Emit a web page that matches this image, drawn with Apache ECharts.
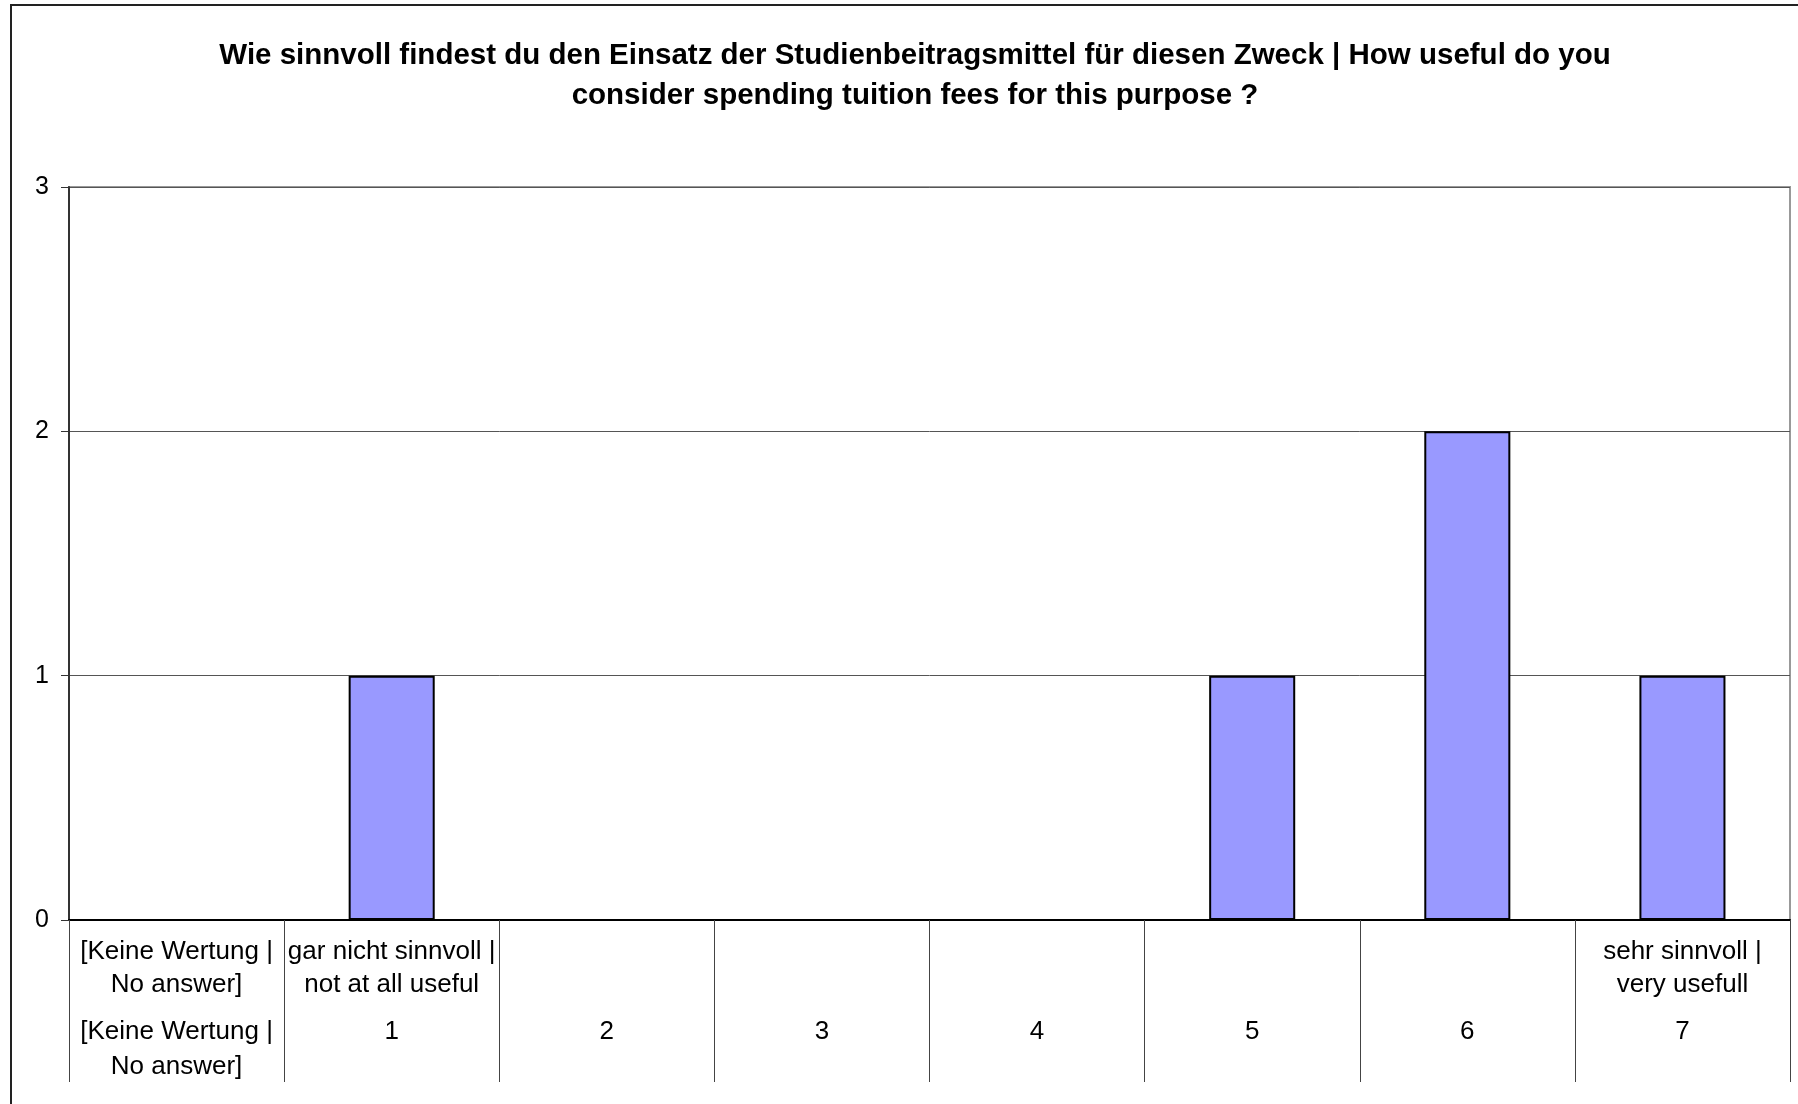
<!DOCTYPE html>
<html>
<head>
<meta charset="utf-8">
<script src="https://cdn.jsdelivr.net/npm/echarts@6/dist/echarts.min.js"></script>
<style>
  html, body { margin: 0; padding: 0; background: #fff; }
  #chart { width: 1798px; height: 1104px; }
</style>
</head>
<body>
<div id="chart"></div>
<script>
// Antwortskala (obere Zeile = Beschriftung, untere Zeile = Wert)
var scaleLabels = ['[Keine Wertung |\nNo answer]', 'gar nicht sinnvoll |\nnot at all useful', '', '', '', '', '', 'sehr sinnvoll |\nvery usefull']
var scaleValues = ['[Keine Wertung |\nNo answer]', '1', '2', '3', '4', '5', '6', '7']
var counts = [0, 1, 0, 0, 0, 1, 2, 1]
var yTicks = [0, 1, 2, 3]

var titleText = 'Wie sinnvoll findest du den Einsatz der Studienbeitragsmittel für diesen Zweck | How useful do you\nconsider spending tuition fees for this purpose ?'
var font = 'Arial, "Liberation Sans", sans-serif'

var myChart = echarts.init(document.getElementById('chart'))
var option = {
  backgroundColor: '#fff',
  animation: false,
  title: {
    text: titleText,
    left: 910,
    top: 31,
    textAlign: 'center',
    textStyle: {
      fontFamily: font,
      fontSize: 29.5,
      fontWeight: 'bold',
      color: '#000',
      lineHeight: 40,
      align: 'center'
    }
  },
  graphic: [
    {
      type: 'rect',
      shape: { x: 11, y: 5, width: 1800, height: 1110 },
      style: { fill: 'none', stroke: '#222', lineWidth: 2 },
      z: 100
    }
  ],
  grid: {
    left: 69,
    right: 8,
    top: 187,
    bottom: 184,
    show: true,
    borderColor: '#999',
    borderWidth: 2
  },
  xAxis: [
    {
      type: 'category',
      data: scaleLabels,
      position: 'bottom',
      axisLine: { show: true, lineStyle: { color: '#000', width: 2 } },
      axisTick: { show: true, inside: false, length: 162, lineStyle: { color: '#444', width: 1 } },
      axisLabel: {
        interval: 0,
        margin: 15,
        fontFamily: font,
        fontSize: 26,
        lineHeight: 33,
        color: '#000',
        align: 'center'
      },
      splitLine: { show: false }
    },
    {
      type: 'category',
      data: scaleValues,
      position: 'bottom',
      axisLine: { show: false },
      axisTick: { show: false },
      axisLabel: {
        interval: 0,
        margin: 94,
        fontFamily: font,
        fontSize: 26,
        lineHeight: 35,
        color: '#000',
        align: 'center'
      },
      splitLine: { show: false }
    }
  ],
  yAxis: {
    type: 'value',
    min: yTicks[0],
    max: yTicks[yTicks.length - 1],
    interval: 1,
    axisLine: { show: true, lineStyle: { color: '#333', width: 2 } },
    axisTick: { show: true, inside: false, length: 8, lineStyle: { color: '#333', width: 1 } },
    axisLabel: {
      margin: 20,
      fontFamily: font,
      fontSize: 25,
      color: '#000'
    },
    splitLine: { show: true, lineStyle: { color: '#555', width: 1 } }
  },
  series: [
    {
      type: 'bar',
      xAxisIndex: 0,
      barWidth: '40%',
      data: counts.map(function (v) { return v === 0 ? '-' : v }),
      itemStyle: {
        color: '#9999FF',
        borderColor: '#000',
        borderWidth: 2
      }
    }
  ]
}
myChart.setOption(option)
</script>
</body>
</html>
